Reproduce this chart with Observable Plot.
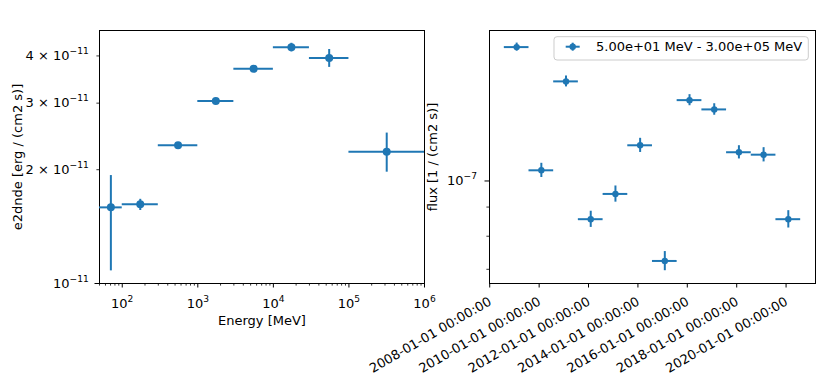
<!DOCTYPE html>
<html><head><meta charset="utf-8">
<script src="https://cdn.jsdelivr.net/npm/d3@7"></script>
<script src="https://cdn.jsdelivr.net/npm/@observablehq/plot@0.6"></script>
<style>
body{margin:0;background:#fff;}
#chart{position:relative;width:831px;height:378px;font-family:"DejaVu Sans";}
#chart svg{position:absolute;left:0;top:0;overflow:visible;}
</style></head><body><div id="chart"></div>
<script>
// ---- Spectral energy distribution (left panel) ----
const energyMin = [50, 100, 300, 1000, 3000, 10000, 30000, 100000];
const energyMax = [100, 300, 1000, 3000, 10000, 30000, 100000, 1000000];
const energyRef = [70.7, 173.2, 547.7, 1732, 5477, 17321, 54772, 316228];
const e2dnde   = [1.59e-11, 1.62e-11, 2.32e-11, 3.04e-11, 3.70e-11, 4.22e-11, 3.95e-11, 2.23e-11];
const e2dndeLo = [1.08e-11, 1.56e-11, 2.30e-11, 3.01e-11, 3.67e-11, 4.10e-11, 3.73e-11, 1.97e-11];
const e2dndeHi = [1.93e-11, 1.67e-11, 2.34e-11, 3.07e-11, 3.73e-11, 4.32e-11, 4.16e-11, 2.50e-11];
const energyTicks = [1e2, 1e3, 1e4, 1e5, 1e6];
const energyTickLabels = ["10²", "10³", "10⁴", "10⁵", "10⁶"];
const e2dndeMajorTicks = [1e-11];
const e2dndeMinorTicks = [2e-11, 3e-11, 4e-11];
const e2dndeTicks = [1e-11, 2e-11, 3e-11, 4e-11];
const e2dndeTickLabels = ["10⁻¹¹", "2 × 10⁻¹¹", "3 × 10⁻¹¹", "4 × 10⁻¹¹"];
const energyDomain = [50, 1e6];
const e2dndeDomain = [1e-11, 4.67e-11];

// ---- Light curve (right panel) ----
const binStart = ["2008-08-04","2009-08-04","2010-08-04","2011-08-04","2012-08-04","2013-08-04",
                  "2014-08-04","2015-08-04","2016-08-04","2017-08-04","2018-08-04","2019-08-04"];
const binStop  = ["2009-08-04","2010-08-04","2011-08-04","2012-08-04","2013-08-04","2014-08-04",
                  "2015-08-04","2016-08-04","2017-08-04","2018-08-04","2019-08-04","2020-08-04"];
const flux    = [1.717e-7, 1.044e-7, 1.495e-7, 0.857e-7, 0.949e-7, 1.155e-7,
                 0.724e-7, 1.386e-7, 1.335e-7, 1.123e-7, 1.112e-7, 0.857e-7];
const fluxErr = [0.028e-7, 0.030e-7, 0.033e-7, 0.028e-7, 0.031e-7, 0.033e-7,
                 0.028e-7, 0.031e-7, 0.031e-7, 0.030e-7, 0.032e-7, 0.030e-7];
const timeTicks = ["2008-01-01","2010-01-01","2012-01-01","2014-01-01","2016-01-01","2018-01-01","2020-01-01"];
const fluxMajorTicks = [1e-7];
const fluxMajorLabels = ["10⁻⁷"];
const fluxMinorTicks = [7e-8, 8e-8, 9e-8];
const fluxDomain = [6.61e-8, 1.836e-7];
const legendLabel = "5.00e+01 MeV - 3.00e+05 MeV";

const blue = "#1f77b4";
const W = 831, H = 378;
const baseStyle = {fontFamily: "DejaVu Sans", fontSize: "13px", background: "transparent", overflow: "visible", color: "black"};

const sed = energyRef.map((e, i) => ({e, emin: energyMin[i], emax: energyMax[i], v: e2dnde[i], lo: e2dndeLo[i], hi: e2dndeHi[i]}));
const lab = (ticks, labels) => { const m = new Map(ticks.map((t, i) => [t, labels[i]])); return d => m.get(d) ?? ""; };

const minorEnergy = [];
for (let p = 1; p <= 5; p++) for (let k = 2; k <= 9; k++) { const v = k * 10 ** p; if (v >= energyDomain[0] && v <= energyDomain[1]) minorEnergy.push(v); }
const none = () => "";

const left = Plot.plot({
  width: W, height: H,
  marginLeft: 99, marginRight: W - 424, marginTop: 30, marginBottom: 95,
  style: baseStyle,
  x: {type: "log", domain: energyDomain},
  y: {type: "log", domain: e2dndeDomain},
  marks: [
    Plot.axisX({ticks: minorEnergy, tickSize: 2.6, strokeWidth: 0.8, tickFormat: none, label: null}),
    Plot.axisX({ticks: energyTicks, tickSize: 4.5, tickFormat: none, label: null}),
    Plot.text(energyTicks, {x: d => d, frameAnchor: "bottom", textAnchor: "middle", lineAnchor: "top", dy: 15.3, text: lab(energyTicks, energyTickLabels), fill: "black"}),
    Plot.axisY({ticks: e2dndeMajorTicks, tickSize: 4.5, tickFormat: none, label: null}),
    Plot.axisY({ticks: e2dndeMinorTicks, tickSize: 2.6, strokeWidth: 0.8, tickFormat: none, label: null}),
    Plot.text(e2dndeTicks, {y: d => d, frameAnchor: "left", textAnchor: "end", lineAnchor: "middle", dx: -10.7, text: lab(e2dndeTicks, e2dndeTickLabels), fill: "black"}),
    Plot.frame({stroke: "black", strokeWidth: 1}),
    Plot.ruleY(sed, {y: "v", x1: "emin", x2: "emax", stroke: blue, strokeWidth: 2}),
    Plot.ruleX(sed, {x: "e", y1: "lo", y2: "hi", stroke: blue, strokeWidth: 2}),
    Plot.dot(sed, {x: "e", y: "v", r: 4, fill: blue, stroke: "none"}),
    Plot.text(["Energy [MeV]"], {text: d => d, frameAnchor: "bottom", lineAnchor: "middle", textAnchor: "middle", dy: 37.3, fill: "black"}),
    Plot.text(["e2dnde [erg / (cm2 s)]"], {text: d => d, frameAnchor: "left", lineAnchor: "middle", textAnchor: "middle", dx: -82, rotate: -90, fill: "black"})
  ]
});

const lc = binStart.map((s, i) => {
  const t0 = new Date(s + "T00:00:00Z"), t1 = new Date(binStop[i] + "T00:00:00Z");
  return {t0, t1, t: new Date((+t0 + +t1) / 2), v: flux[i], lo: flux[i] - fluxErr[i], hi: flux[i] + fluxErr[i]};
});
const tMin = d3.min(lc, d => +d.t0), tMax = d3.max(lc, d => +d.t1), pad = 0.05 * (tMax - tMin);
const timeTickDates = timeTicks.map(s => new Date(s + "T00:00:00Z"));
const fmt = d3.utcFormat("%Y-%m-%d %H:%M:%S");

const right = Plot.plot({
  width: W, height: H,
  marginLeft: 489, marginRight: W - 815, marginTop: 30, marginBottom: 95,
  style: baseStyle,
  x: {type: "utc", domain: [new Date(tMin - pad), new Date(tMax + pad)]},
  y: {type: "log", domain: fluxDomain},
  marks: [
    Plot.axisX({ticks: timeTickDates, tickSize: 4.5, tickFormat: none, label: null}),
    Plot.text(timeTickDates, {x: d => d, frameAnchor: "bottom", rotate: -30, textAnchor: "end", lineAnchor: "middle", dy: 17, dx: 0.5, text: d => fmt(d), fill: "black"}),
    Plot.axisY({ticks: fluxMajorTicks, tickSize: 4.5, tickFormat: none, label: null}),
    Plot.axisY({ticks: fluxMinorTicks, tickSize: 2.6, strokeWidth: 0.8, tickFormat: none, label: null}),
    Plot.text(fluxMajorTicks, {y: d => d, frameAnchor: "left", textAnchor: "end", lineAnchor: "middle", dx: -12.5, text: lab(fluxMajorTicks, fluxMajorLabels), fill: "black"}),
    Plot.frame({stroke: "black", strokeWidth: 1}),
    Plot.ruleY(lc, {y: "v", x1: "t0", x2: "t1", stroke: blue, strokeWidth: 2}),
    Plot.ruleX(lc, {x: "t", y1: "lo", y2: "hi", stroke: blue, strokeWidth: 2}),
    Plot.dot(lc, {x: "t", y: "v", r: 3.2, fill: blue, stroke: "none"}),
    Plot.text(["flux [1 / (cm2 s)]"], {text: d => d, frameAnchor: "left", lineAnchor: "middle", textAnchor: "middle", dx: -57, rotate: -90, fill: "black"})
  ]
});

const chart = document.getElementById("chart");
chart.append(left, right);

// render superscripts of tick labels like matplotlib mathtext (smaller, raised)
const supMap = {"⁻": "−", "⁰": "0", "¹": "1", "²": "2", "³": "3", "⁴": "4", "⁵": "5", "⁶": "6", "⁷": "7", "⁸": "8", "⁹": "9"};
for (const s of [left, right]) {
  d3.select(s).selectAll("text").each(function () {
    const str = this.textContent;
    const m = str.match(/^(.*?)([⁻⁰¹²³⁴⁵⁶⁷⁸⁹]+)$/);
    if (!m) return;
    const el = d3.select(this);
    el.text(null);
    el.append("tspan").text(m[1]);
    el.append("tspan").attr("font-size", "70%").attr("dy", "-0.66em")
      .text([...m[2]].map(c => supMap[c]).join(""));
  });
}

// legend (matplotlib-style box at the top-right of the right axes)
const svg = d3.select(right);
const g = svg.append("g").attr("transform", `translate(${815 - 6.7},${30 + 6.7})`);
g.append("rect").attr("x", -254.3).attr("y", 0).attr("width", 254.3).attr("height", 23.3)
  .attr("rx", 3).attr("fill", "white").attr("fill-opacity", 0.8).attr("stroke", "#cccccc").attr("stroke-width", 1);
const hx = -235.6, hy = 10;
g.append("line").attr("x1", hx - 7).attr("x2", hx + 7).attr("y1", hy).attr("y2", hy).attr("stroke", blue).attr("stroke-width", 2);
g.append("line").attr("x1", hx).attr("x2", hx).attr("y1", hy - 4).attr("y2", hy + 4).attr("stroke", blue).attr("stroke-width", 2);
g.append("circle").attr("cx", hx).attr("cy", hy).attr("r", 3.2).attr("fill", blue);
g.append("text").attr("x", -212.3).attr("y", hy + 4.6).attr("text-anchor", "start")
  .attr("font-family", "DejaVu Sans").attr("font-size", 13).attr("fill", "black").text(legendLabel);
</script></body></html>
